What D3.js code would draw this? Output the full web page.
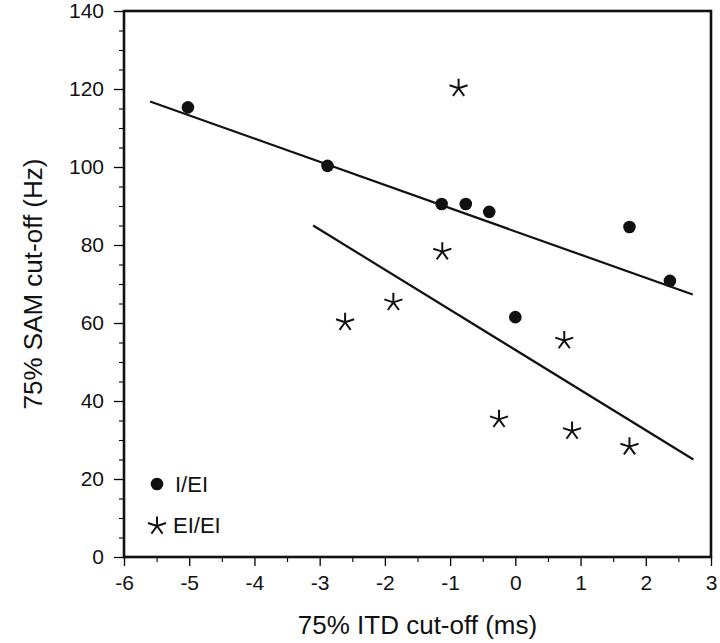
<!DOCTYPE html>
<html><head><meta charset="utf-8">
<script src="https://cdn.jsdelivr.net/npm/d3@7"></script>
<style>
html,body{margin:0;padding:0;background:#fff;}
svg text{font-family:"Liberation Sans",Arial,Helvetica,sans-serif;fill:#111;}
</style></head>
<body>
<svg id="chart" width="720" height="643"></svg>
<script>
// ---- data ----
const ieiX = [-5.02, -2.88, -1.13, -0.76, -0.40, 0.0, 1.75, 2.37];
const ieiY = [115.3, 100.3, 90.5, 90.5, 88.5, 61.5, 84.6, 70.8];
const eieiX = [-0.87, -1.12, -1.87, -2.61, 0.75, -0.25, 0.87, 1.75];
const eieiY = [120.2, 78.3, 65.3, 60.2, 55.5, 35.3, 32.3, 28.3];
const fitIeiX = [-5.6, 2.72];
const fitIeiY = [116.8, 67.3];
const fitEieiX = [-3.1, 2.73];
const fitEieiY = [85.0, 25.0];
const xTicks = [-6, -5, -4, -3, -2, -1, 0, 1, 2, 3];
const yTicks = [0, 20, 40, 60, 80, 100, 120, 140];
const legendLabels = ["I/EI", "EI/EI"];
const xTitle = "75% ITD cut-off (ms)";
const yTitle = "75% SAM cut-off (Hz)";

const svg = d3.select("#chart");
const L = 124, R = 711, T = 11, B = 557;
const x = d3.scaleLinear().domain([-6, 3]).range([L, R]);
const y = d3.scaleLinear().domain([0, 140]).range([B, T]);
const fmt = d => String(d);

// minor ticks
const xMinor = d3.range(-6, 3.01, 0.5).filter(v => !xTicks.includes(v));
const yMinor = d3.range(0, 140.01, 5).filter(v => !yTicks.includes(v));

const gx = svg.append("g").attr("transform", `translate(0,${B})`)
  .call(d3.axisBottom(x).tickValues(xTicks).tickSize(9).tickPadding(9).tickFormat(fmt));
gx.select(".domain").remove();
gx.selectAll("text").attr("font-size", 21).style("font-family", "Liberation Sans, Arial, sans-serif");
gx.selectAll("line").attr("stroke-width", 1.3);
const gxm = svg.append("g").attr("transform", `translate(0,${B})`)
  .call(d3.axisBottom(x).tickValues(xMinor).tickSize(5).tickFormat(""));
gxm.select(".domain").remove();
gxm.selectAll("line").attr("stroke-width", 1.1);

const gy = svg.append("g").attr("transform", `translate(${L},0)`)
  .call(d3.axisLeft(y).tickValues(yTicks).tickSize(10).tickPadding(10).tickFormat(fmt));
gy.select(".domain").remove();
gy.selectAll("text").attr("font-size", 21).style("font-family", "Liberation Sans, Arial, sans-serif");
gy.selectAll("line").attr("stroke-width", 1.3);
const gym = svg.append("g").attr("transform", `translate(${L},0)`)
  .call(d3.axisLeft(y).tickValues(yMinor).tickSize(5).tickFormat(""));
gym.select(".domain").remove();
gym.selectAll("line").attr("stroke-width", 1.1);

// frame
svg.append("rect").attr("x", L).attr("y", T).attr("width", R - L).attr("height", B - T)
  .attr("fill", "none").attr("stroke", "#111").attr("stroke-width", 2.6);

// fit lines
const line = d3.line().x(d => x(d[0])).y(d => y(d[1]));
svg.append("path").datum(fitIeiX.map((v, i) => [v, fitIeiY[i]]))
  .attr("d", line).attr("fill", "none").attr("stroke", "#111").attr("stroke-width", 2.2);
svg.append("path").datum(fitEieiX.map((v, i) => [v, fitEieiY[i]]))
  .attr("d", line).attr("fill", "none").attr("stroke", "#111").attr("stroke-width", 2.2);

// asterisk path (5 arms)
function asterisk(r) {
  let p = "";
  for (let k = 0; k < 5; k++) {
    const a = (-90 + k * 72) * Math.PI / 180;
    p += `M0,0L${(r * Math.cos(a)).toFixed(2)},${(r * Math.sin(a)).toFixed(2)}`;
  }
  return p;
}

// points
svg.append("g").selectAll("circle").data(ieiX.map((v, i) => [v, ieiY[i]])).join("circle")
  .attr("cx", d => x(d[0])).attr("cy", d => y(d[1])).attr("r", 6.3).attr("fill", "#111");
svg.append("g").selectAll("path").data(eieiX.map((v, i) => [v, eieiY[i]])).join("path")
  .attr("transform", d => `translate(${x(d[0])},${y(d[1])})`)
  .attr("d", asterisk(9.5)).attr("fill", "none").attr("stroke", "#111").attr("stroke-width", 2);

// legend
const lg = svg.append("g");
lg.append("circle").attr("cx", 157).attr("cy", 484).attr("r", 6.3).attr("fill", "#111");
lg.append("path").attr("transform", "translate(157,526)").attr("d", asterisk(9.5))
  .attr("fill", "none").attr("stroke", "#111").attr("stroke-width", 2);
lg.append("text").attr("x", 175).attr("y", 492).attr("font-size", 22).text(legendLabels[0]);
lg.append("text").attr("x", 173).attr("y", 533).attr("font-size", 22).text(legendLabels[1]);

// titles
svg.append("text").attr("x", (L + R) / 2).attr("y", 634).attr("text-anchor", "middle")
  .attr("font-size", 26).text(xTitle);
svg.append("text").attr("transform", `translate(42,${(T + B) / 2}) rotate(-90)`)
  .attr("text-anchor", "middle").attr("font-size", 26).text(yTitle);
</script>
</body></html>
